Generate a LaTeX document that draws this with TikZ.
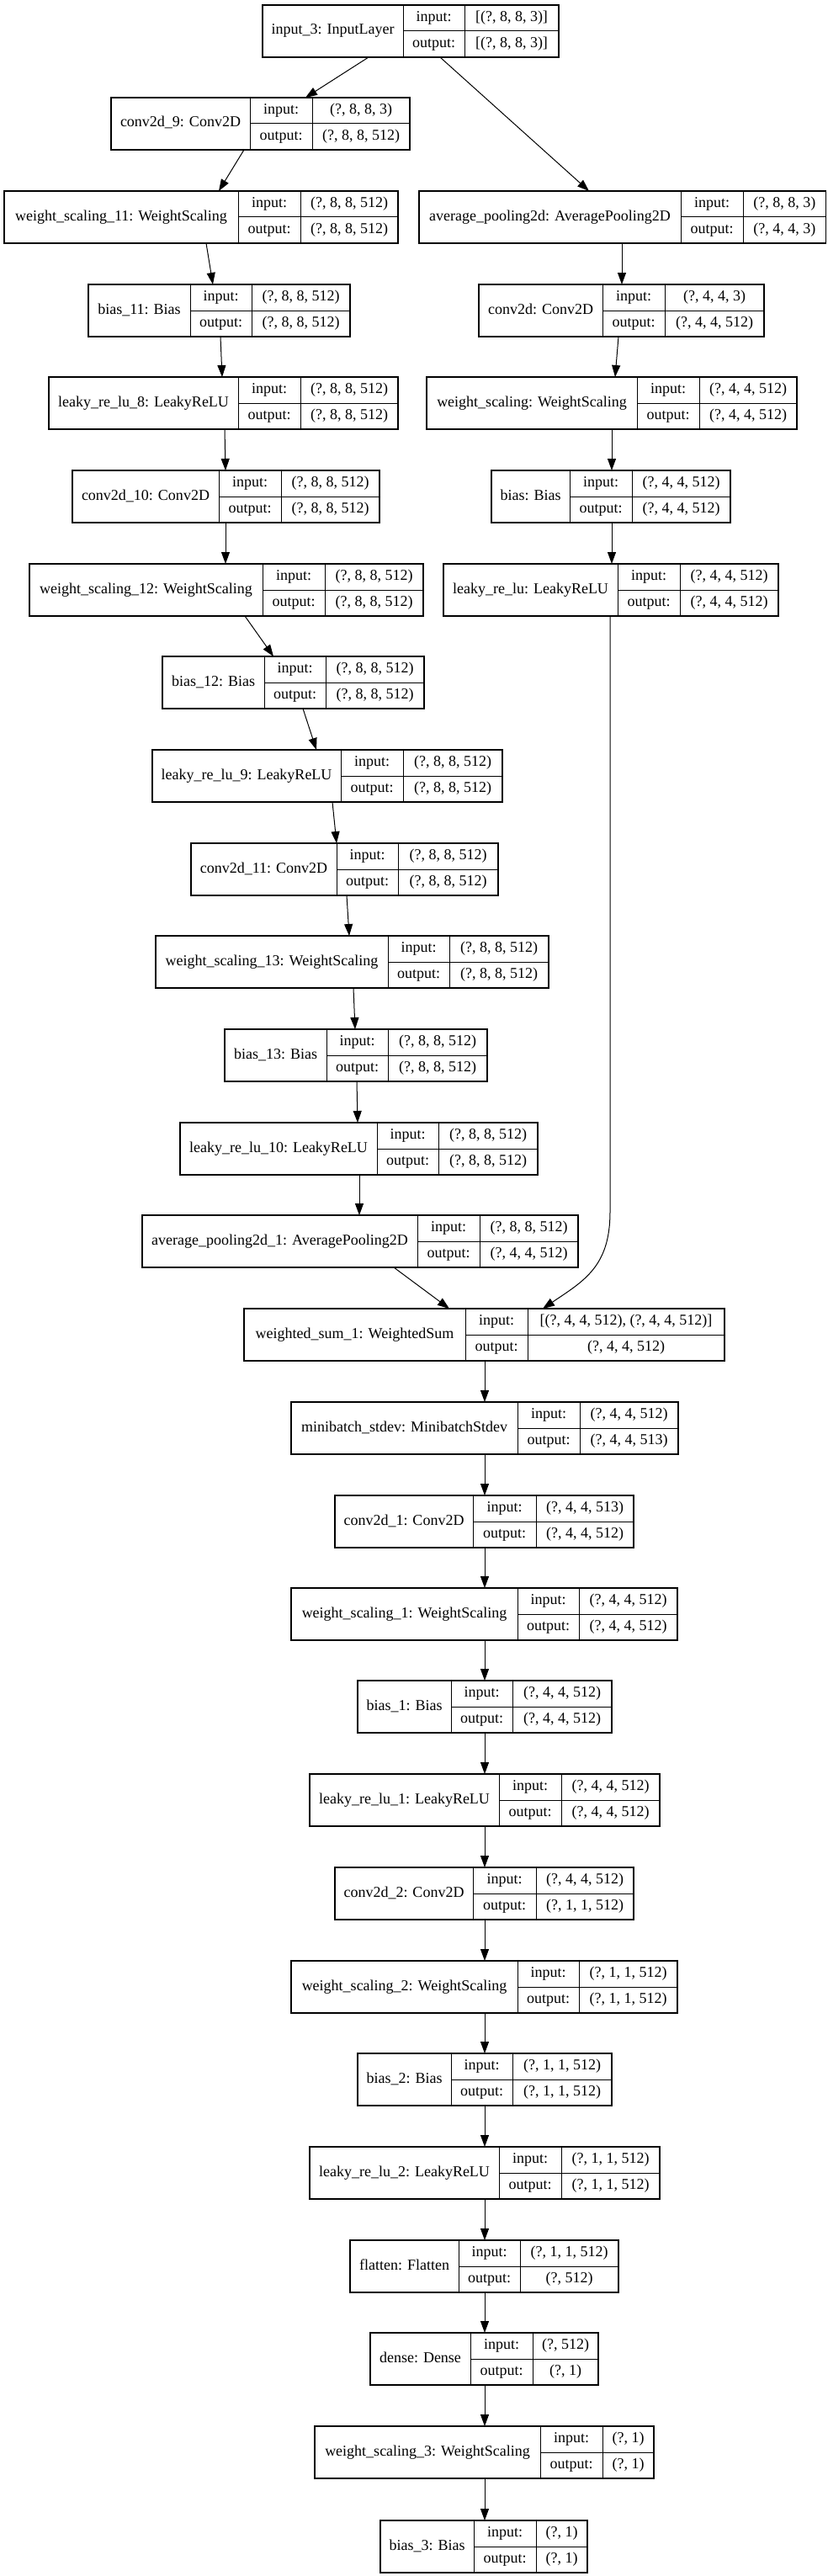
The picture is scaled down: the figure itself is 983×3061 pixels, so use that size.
\documentclass[tikz,border=0pt]{standalone}
\usepackage{fontspec}
\setmainfont{Liberation Serif}
\usetikzlibrary{arrows.meta}
\tikzset{
  box/.style={draw=black, line width=1.2pt, fill=white, inner sep=0pt, outer sep=0pt},
  cell/.style={draw=black, line width=1pt},
  txt/.style={inner sep=0pt, font=\fontsize{18}{20}\selectfont, text height=12pt, text depth=4pt},
  arr/.style={line width=1pt, -{Triangle[length=14pt,width=10pt]}}
}
\newcommand\lay[9]{%
  \node[box, minimum width={(#5-#2)*1pt}, minimum height=62pt] (#1) at ({(#2+#5)/2},{#6+31}) {};
  \draw[cell] (#3,#6) -- (#3,{#6+62});
  \draw[cell] (#4,#6) -- (#4,{#6+62});
  \draw[cell] (#3,{#6+31}) -- (#5,{#6+31});
  \node[txt] (#1-n) at ({(#2+#3)/2},{#6+31}) {#7};
  \node[txt] (#1-il) at ({(#3+#4)/2},{#6+15.5}) {input:};
  \node[txt] (#1-ol) at ({(#3+#4)/2},{#6+46.5}) {output:};
  \node[txt] (#1-iv) at ({(#4+#5)/2},{#6+15.5}) {#8};
  \node[txt] (#1-ov) at ({(#4+#5)/2},{#6+46.5}) {#9};
}
\begin{document}
\begin{tikzpicture}[x=1pt,y=-1pt]
\useasboundingbox[fill=white] (0,0) rectangle (983,3061);
\lay{in3}{312}{479}{552}{664}{6}{input\_3: InputLayer}{[(?, 8, 8, 3)]}{[(?, 8, 8, 3)]}
\lay{c9}{132}{297}{371}{487}{116}{conv2d\_9: Conv2D}{(?, 8, 8, 3)}{(?, 8, 8, 512)}
\lay{ws11}{5}{283}{357}{473}{227}{weight\_scaling\_11: WeightScaling}{(?, 8, 8, 512)}{(?, 8, 8, 512)}
\lay{ap}{498}{809}{883}{981.5}{227}{average\_pooling2d: AveragePooling2D}{(?, 8, 8, 3)}{(?, 4, 4, 3)}
\lay{b11}{105}{226}{299}{416}{338}{bias\_11: Bias}{(?, 8, 8, 512)}{(?, 8, 8, 512)}
\lay{c0}{569}{716}{790}{908}{338}{conv2d: Conv2D}{(?, 4, 4, 3)}{(?, 4, 4, 512)}
\lay{lr8}{58}{283}{357}{473}{448}{leaky\_re\_lu\_8: LeakyReLU}{(?, 8, 8, 512)}{(?, 8, 8, 512)}
\lay{ws0}{507}{757}{831}{947}{448}{weight\_scaling: WeightScaling}{(?, 4, 4, 512)}{(?, 4, 4, 512)}
\lay{c10}{86}{260}{334}{451}{559}{conv2d\_10: Conv2D}{(?, 8, 8, 512)}{(?, 8, 8, 512)}
\lay{b0}{584}{677}{751}{868}{559}{bias: Bias}{(?, 4, 4, 512)}{(?, 4, 4, 512)}
\lay{ws12}{35}{312}{386}{503}{670}{weight\_scaling\_12: WeightScaling}{(?, 8, 8, 512)}{(?, 8, 8, 512)}
\lay{lr0}{527}{734}{808}{925}{670}{leaky\_re\_lu: LeakyReLU}{(?, 4, 4, 512)}{(?, 4, 4, 512)}
\lay{b12}{193}{314}{387}{504}{780}{bias\_12: Bias}{(?, 8, 8, 512)}{(?, 8, 8, 512)}
\lay{lr9}{181}{405}{479}{597}{891}{leaky\_re\_lu\_9: LeakyReLU}{(?, 8, 8, 512)}{(?, 8, 8, 512)}
\lay{c11}{227}{400}{473}{592}{1002}{conv2d\_11: Conv2D}{(?, 8, 8, 512)}{(?, 8, 8, 512)}
\lay{ws13}{185}{461}{534}{652}{1112}{weight\_scaling\_13: WeightScaling}{(?, 8, 8, 512)}{(?, 8, 8, 512)}
\lay{b13}{267}{388}{461}{579}{1223}{bias\_13: Bias}{(?, 8, 8, 512)}{(?, 8, 8, 512)}
\lay{lr10}{214}{448}{521}{639}{1334}{leaky\_re\_lu\_10: LeakyReLU}{(?, 8, 8, 512)}{(?, 8, 8, 512)}
\lay{ap1}{169}{496}{570}{687}{1444}{average\_pooling2d\_1: AveragePooling2D}{(?, 8, 8, 512)}{(?, 4, 4, 512)}
\lay{wsum}{290}{553}{627}{861}{1555}{weighted\_sum\_1: WeightedSum}{[(?, 4, 4, 512), (?, 4, 4, 512)]}{(?, 4, 4, 512)}
\lay{mb}{346}{615}{689}{806}{1666}{minibatch\_stdev: MinibatchStdev}{(?, 4, 4, 512)}{(?, 4, 4, 513)}
\lay{c1}{398}{562}{637}{753}{1777}{conv2d\_1: Conv2D}{(?, 4, 4, 513)}{(?, 4, 4, 512)}
\lay{ws1}{346}{615}{688}{805}{1887}{weight\_scaling\_1: WeightScaling}{(?, 4, 4, 512)}{(?, 4, 4, 512)}
\lay{b1}{425}{536}{609}{727}{1997}{bias\_1: Bias}{(?, 4, 4, 512)}{(?, 4, 4, 512)}
\lay{lr1}{368}{593}{667}{784}{2108}{leaky\_re\_lu\_1: LeakyReLU}{(?, 4, 4, 512)}{(?, 4, 4, 512)}
\lay{c2}{398}{562}{637}{753}{2219}{conv2d\_2: Conv2D}{(?, 4, 4, 512)}{(?, 1, 1, 512)}
\lay{ws2}{346}{615}{688}{805}{2330}{weight\_scaling\_2: WeightScaling}{(?, 1, 1, 512)}{(?, 1, 1, 512)}
\lay{b2}{425}{536}{609}{727}{2440}{bias\_2: Bias}{(?, 1, 1, 512)}{(?, 1, 1, 512)}
\lay{lr2}{368}{593}{667}{784}{2551}{leaky\_re\_lu\_2: LeakyReLU}{(?, 1, 1, 512)}{(?, 1, 1, 512)}
\lay{fl}{416}{545}{618}{735}{2662}{flatten: Flatten}{(?, 1, 1, 512)}{(?, 512)}
\lay{de}{440}{559}{633}{711}{2772}{dense: Dense}{(?, 512)}{(?, 1)}
\lay{ws3}{374}{642}{716}{777}{2883}{weight\_scaling\_3: WeightScaling}{(?, 1)}{(?, 1)}
\lay{b3}{452}{563}{637}{698}{2995}{bias\_3: Bias}{(?, 1)}{(?, 1)}
% connectors
\draw[arr] (in3.south -| 438,0) -- (c9.north -| 363,0);
\draw[arr] (in3.south -| 523,0) -- (ap.north -| 700,0);
\draw[arr] (c9.south -| 290,0) -- (ws11.north -| 260,0);
\draw[arr] (ws11.south -| 245,0) -- (b11.north -| 253,0);
\draw[arr] (ap.south -| 739,0) -- (c0.north -| 739,0);
\draw[arr] (b11.south -| 262,0) -- (lr8.north -| 264,0);
\draw[arr] (c0.south -| 735,0) -- (ws0.north -| 731,0);
\draw[arr] (lr8.south -| 267,0) -- (c10.north -| 268,0);
\draw[arr] (ws0.south -| 727,0) -- (b0.north -| 727,0);
\draw[arr] (c10.south -| 268,0) -- (ws12.north -| 268,0);
\draw[arr] (b0.south -| 727,0) -- (lr0.north -| 727,0);
\draw[arr] (ws12.south -| 291,0) -- (b12.north -| 325,0);
\draw[arr] (b12.south -| 360,0) -- (lr9.north -| 376,0);
\draw[arr] (lr9.south -| 395,0) -- (c11.north -| 400,0);
\draw[arr] (c11.south -| 412,0) -- (ws13.north -| 415,0);
\draw[arr] (ws13.south -| 420,0) -- (b13.north -| 422,0);
\draw[arr] (b13.south -| 424,0) -- (lr10.north -| 425,0);
\draw[arr] (lr10.south -| 427,0) -- (ap1.north -| 427,0);
\draw[arr] (ap1.south -| 468,0) -- (wsum.north -| 534,0);
\coordinate (bend) at (725,1440);
\draw[arr] (lr0.south -| 725,0) -- (bend) .. controls (725,1505) and (694,1522) .. (wsum.north -| 645,0);
\draw[arr] (wsum.south -| 576,0) -- (mb.north -| 576,0);
\draw[arr] (mb.south -| 576,0) -- (c1.north -| 576,0);
\draw[arr] (c1.south -| 576,0) -- (ws1.north -| 576,0);
\draw[arr] (ws1.south -| 576,0) -- (b1.north -| 576,0);
\draw[arr] (b1.south -| 576,0) -- (lr1.north -| 576,0);
\draw[arr] (lr1.south -| 576,0) -- (c2.north -| 576,0);
\draw[arr] (c2.south -| 576,0) -- (ws2.north -| 576,0);
\draw[arr] (ws2.south -| 576,0) -- (b2.north -| 576,0);
\draw[arr] (b2.south -| 576,0) -- (lr2.north -| 576,0);
\draw[arr] (lr2.south -| 576,0) -- (fl.north -| 576,0);
\draw[arr] (fl.south -| 576,0) -- (de.north -| 576,0);
\draw[arr] (de.south -| 576,0) -- (ws3.north -| 576,0);
\draw[arr] (ws3.south -| 576,0) -- (b3.north -| 576,0);
\end{tikzpicture}
\end{document}
